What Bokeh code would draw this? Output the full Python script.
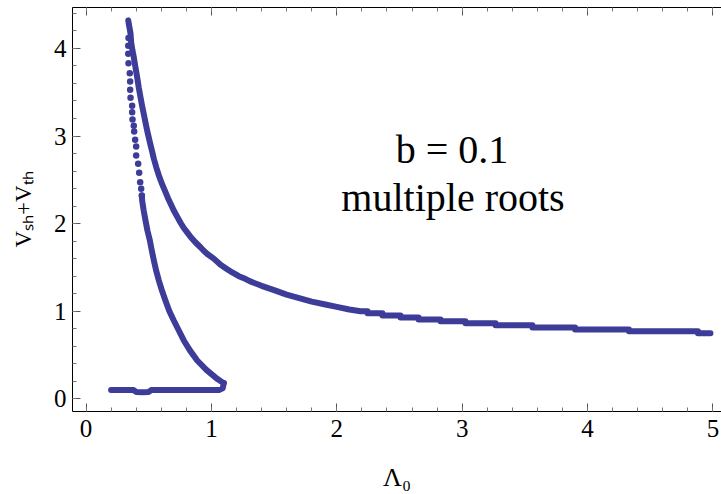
from bokeh.plotting import figure
from bokeh.models import LinearAxis, SingleIntervalTicker, Label, Range1d
from bokeh.embed import file_html
from bokeh.resources import INLINE

# ---------------- data ----------------
# upper branch: from the top of the cusp down the long tail to Lambda0 = 5
upper_x = [0.337, 0.341, 0.349, 0.355, 0.360, 0.370, 0.381, 0.395, 0.408, 0.421,
           0.435, 0.448, 0.461, 0.475, 0.488, 0.501, 0.514, 0.528, 0.541, 0.561,
           0.581, 0.607, 0.634, 0.654, 0.674, 0.700, 0.727, 0.754, 0.780, 0.807,
           0.833, 0.870, 0.913, 0.939, 0.970, 1.019, 1.073, 1.126, 1.170, 1.219,
           1.270, 1.310, 1.400, 1.500, 1.600, 1.700, 1.800, 1.900, 2.000, 2.100,
           2.190, 2.245, 2.245, 2.364, 2.364, 2.508, 2.508, 2.652, 2.652, 2.827,
           2.827, 3.026, 3.026, 3.266, 3.266, 3.560, 3.560, 3.900, 3.900, 4.330,
           4.330, 4.880, 4.880, 4.980]
upper_y = [4.32, 4.28, 4.22, 4.17, 4.07, 3.98, 3.90, 3.78, 3.67, 3.55,
           3.44, 3.34, 3.25, 3.15, 3.06, 2.98, 2.90, 2.82, 2.74, 2.64,
           2.55, 2.45, 2.36, 2.29, 2.23, 2.15, 2.08, 2.01, 1.95, 1.90,
           1.85, 1.79, 1.73, 1.69, 1.65, 1.60, 1.53, 1.48, 1.44, 1.40,
           1.37, 1.34, 1.29, 1.24, 1.19, 1.15, 1.11, 1.08, 1.05, 1.02,
           1.000, 1.000, 0.977, 0.977, 0.951, 0.951, 0.928, 0.928, 0.905, 0.905,
           0.886, 0.886, 0.863, 0.863, 0.840, 0.840, 0.814, 0.814, 0.791, 0.791,
           0.772, 0.772, 0.749, 0.749]

# lower branch, sparse separate dots near the top
sparse_x = [0.339, 0.337, 0.337, 0.339, 0.349, 0.352, 0.352, 0.355, 0.368, 0.368,
            0.371, 0.381, 0.384, 0.392, 0.400, 0.400, 0.416, 0.424, 0.432, 0.440,
            0.445]
sparse_y = [4.12, 4.03, 3.938, 3.831, 3.717, 3.622, 3.527, 3.436, 3.345, 3.272,
            3.188, 3.116, 3.051, 2.957, 2.880, 2.777, 2.683, 2.580, 2.473, 2.397,
            2.321]

# lower branch, dense part down to the corner
lower_x = [0.445, 0.448, 0.460, 0.474, 0.490, 0.509, 0.525, 0.541, 0.560, 0.581,
           0.607, 0.634, 0.665, 0.700, 0.740, 0.780, 0.830, 0.887, 0.960, 1.046,
           1.075, 1.099]
lower_y = [2.32, 2.26, 2.15, 2.04, 1.92, 1.81, 1.69, 1.58, 1.46, 1.35,
           1.23, 1.12, 1.00, 0.894, 0.78, 0.666, 0.55, 0.437, 0.33, 0.228,
           0.20, 0.18]

# near-horizontal bottom branch (V ~ b)
base_x = [0.20, 0.30, 0.38, 0.40, 0.45, 0.50, 0.52, 0.60, 0.70, 0.80,
          0.90, 1.00, 1.06, 1.09, 1.099]
base_y = [0.100, 0.100, 0.100, 0.078, 0.075, 0.078, 0.100, 0.100, 0.100, 0.100,
          0.100, 0.100, 0.100, 0.120, 0.180]

title_lines = ["b = 0.1", "multiple roots"]
x_label = "Λ₀"
y_label = "Vₛₕ+Vₜₕ"

# ---------------- layout ----------------
W, H = 721, 494
FL, FR, FT, FB = 72, 721, 7, 411
X0, X1 = -0.1077, 5.068
Y0, Y1 = -0.145, 4.467
COL = "#3d3d99"
FONT = "Liberation Serif"


def px2x(px):
    return X0 + (px - FL) / (FR - FL) * (X1 - X0)


def py2y(py):
    return Y1 - (py - FT) / (FB - FT) * (Y1 - Y0)


p = figure(width=W, height=H, x_range=Range1d(X0, X1), y_range=Range1d(Y0, Y1),
           output_backend="svg", toolbar_location=None,
           min_border_left=FL, min_border_right=W - FR,
           min_border_top=FT, min_border_bottom=H - FB)
p.outline_line_color = None
p.grid.visible = False
p.background_fill_color = "white"
p.border_fill_color = "white"

bottom_axis = p.below[0]
left_axis = p.left[0]
top_axis = LinearAxis()
p.add_layout(top_axis, "above")

for ax, hide in [(bottom_axis, False), (left_axis, False), (top_axis, True)]:
    ax.ticker = SingleIntervalTicker(interval=1, num_minor_ticks=5)
    ax.axis_line_color = "black"
    ax.axis_line_width = 1
    ax.major_tick_in = 8
    ax.major_tick_out = 0
    ax.minor_tick_in = 4
    ax.minor_tick_out = 0
    ax.major_tick_line_color = "#555555"
    ax.minor_tick_line_color = "#777777"
    ax.major_label_text_font = FONT
    if hide:
        # frame-only axis: ticks, no labels drawn
        ax.major_label_text_color = None
        ax.major_label_text_font_size = "1px"
        ax.major_label_standoff = 0
        ax.axis_label = None
    else:
        ax.major_label_text_color = "black"
        ax.major_label_text_font_size = "25px"
        ax.axis_label_text_font = FONT
        ax.axis_label_text_font_style = "normal"
        ax.axis_label_text_color = "black"

bottom_axis.major_label_standoff = 8
left_axis.major_label_standoff = 6
bottom_axis.axis_label = x_label
left_axis.axis_label = y_label
bottom_axis.axis_label_text_font_size = "26px"
left_axis.axis_label_text_font_size = "23px"
bottom_axis.axis_label_standoff = 23
left_axis.axis_label_standoff = 15

# curves
p.line(upper_x, upper_y, line_width=6, line_color=COL, line_cap="round", line_join="round")
p.line(lower_x, lower_y, line_width=6, line_color=COL, line_cap="round", line_join="round")
p.line(base_x, base_y, line_width=6, line_color=COL, line_cap="round", line_join="round")
p.scatter(sparse_x, sparse_y, size=6.5, fill_color=COL, line_color=None)

# annotation text
p.add_layout(Label(x=px2x(451.5), y=py2y(148.5), text=title_lines[0], text_align="center",
                   text_baseline="alphabetic", text_font=FONT, text_font_size="40px",
                   text_color="black"))
p.add_layout(Label(x=px2x(452.5), y=py2y(197), text=title_lines[1], text_align="center",
                   text_baseline="alphabetic", text_font=FONT, text_font_size="40px",
                   text_color="black"))

open("out.html", "w").write(file_html(p, INLINE))
